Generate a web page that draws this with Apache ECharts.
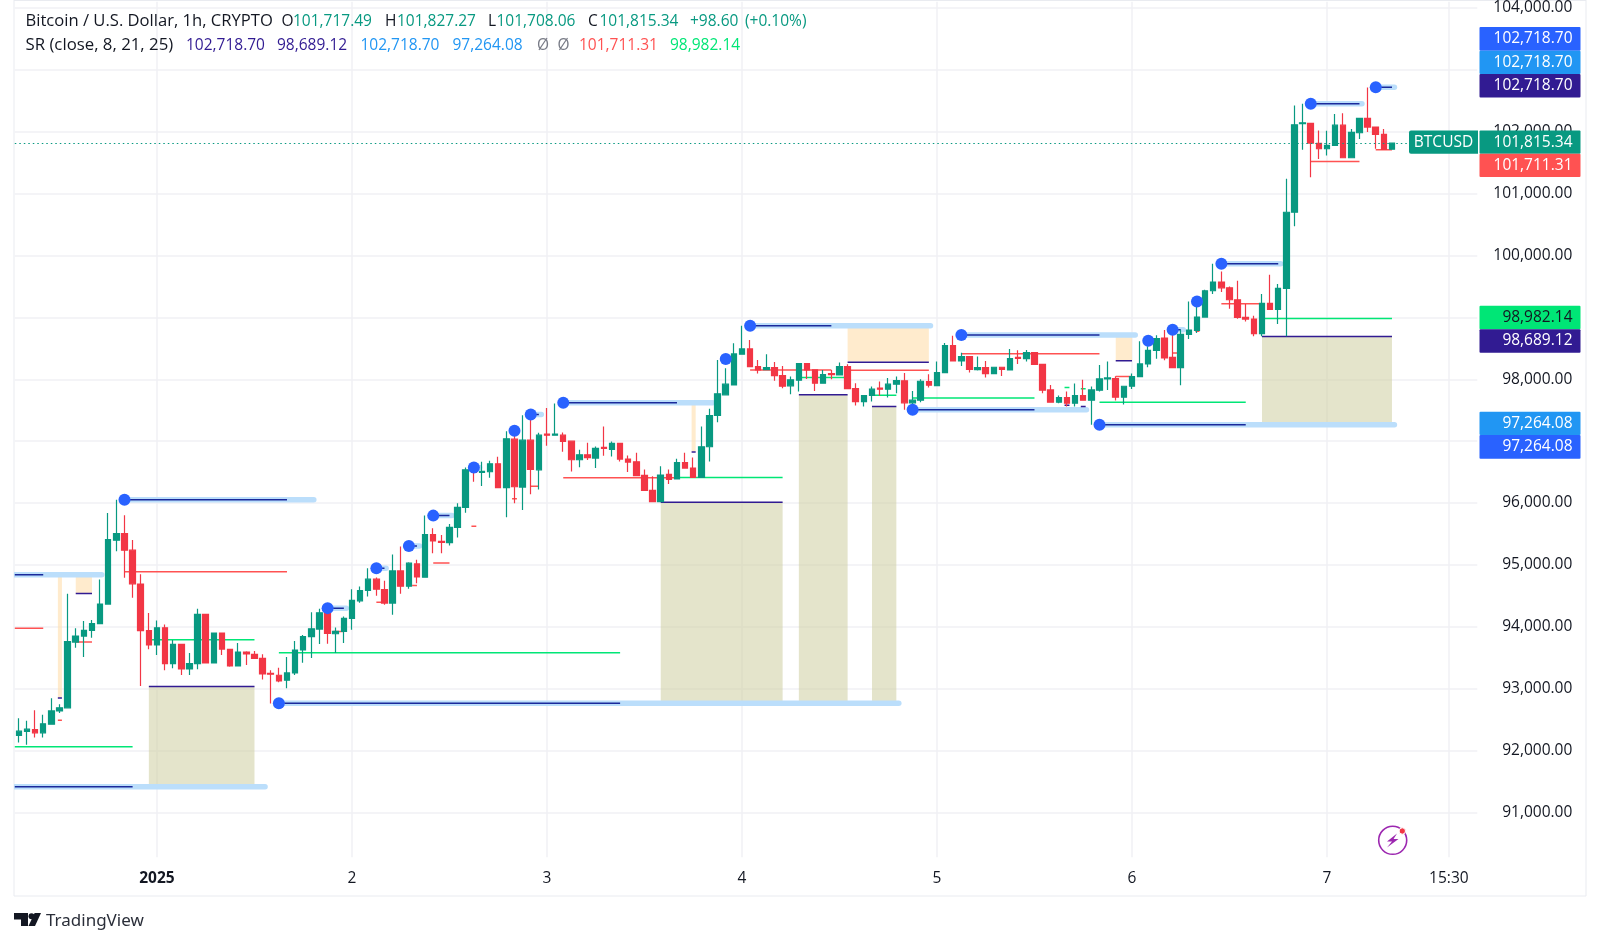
<!DOCTYPE html>
<html>
<head>
<meta charset="utf-8">
<title>BTCUSD 1h</title>
<script src="https://cdn.jsdelivr.net/npm/echarts@6/dist/echarts.min.js"></script>
<style>
  html, body { margin: 0; padding: 0; background: #fff; }
  #main { width: 1600px; height: 945px; }
</style>
</head>
<body>
<div id="main"></div>
<script>
// hourly candles
const opens = [92243,92307,92339,92286,92425,92640,92689,93753,93850,93941,
  94049,94366,95398,95506,95237,94689,93936,93705,93984,93404,
  93716,93318,93404,94199,93415,93898,93635,93366,93592,93554,
  93490,93248,93216,93135,93253,93624,93839,93962,94237,93887,
  93925,94134,94419,94586,94769,94602,94382,94903,94656,95016,
  94801,95489,95382,95360,95607,95930,96554,96494,96505,96634,
  96247,97032,96258,97016,96537,97113,97097,97097,97000,96699,
  96780,96726,96898,96866,96963,96710,96667,96447,96205,96022,
  96463,96388,96651,96565,96414,96909,97414,97748,97909,98404,
  98490,98205,98156,98189,98060,97893,97984,98253,98151,97936,
  98092,98070,98205,97850,97640,97737,97855,97839,97920,97974,
  97619,97662,97963,97898,98108,98543,98296,98366,98156,98189,
  98092,98194,98151,98355,98334,98430,98242,97828,97629,97705,
  97613,97737,97662,97823,98006,98011,97710,97887,98043,98247,
  98468,98667,98355,98188,98726,98790,99005,99430,99570,99478,
  99285,99000,98973,98737,99226,99129,99468,100699,102129,102134,
  101811,101725,101779,102107,101580,101984,102215,102075,101957,101717];
const closes = [92313,92345,92286,92431,92640,92689,93759,93850,93941,94049,
  94366,95409,95506,95237,94694,93936,93705,93984,93404,93716,
  93318,93404,94199,93415,93898,93640,93366,93592,93560,93490,
  93237,93232,93124,93253,93624,93839,93968,94226,93892,93925,
  94134,94425,94586,94769,94607,94382,94903,94656,95027,94806,
  95489,95387,95365,95607,95930,96537,96494,96510,96634,96247,
  97037,96263,97016,96543,97097,97097,97113,96994,96699,96780,
  96732,96882,96882,96963,96710,96662,96441,96205,96022,96452,
  96382,96651,96565,96414,96909,97414,97764,97920,98409,98490,
  98205,98151,98189,98060,97887,97990,98253,98151,97936,98076,
  98076,98205,97850,97640,97737,97839,97839,97920,97979,97619,
  97662,97968,97904,98108,98543,98296,98366,98161,98189,98092,
  98194,98161,98334,98339,98430,98242,97823,97629,97705,97613,
  97737,97662,97828,98006,98022,97710,97887,98043,98247,98468,
  98656,98344,98188,98726,98796,99005,99430,99570,99478,99285,
  99000,98973,98737,99226,99129,99468,100699,102113,102145,101817,
  101725,101779,102107,101580,101989,102215,102075,101957,101715,101815];
const highs = [92522,92479,92651,92576,92845,92748,94533,93974,94092,94108,
  94764,95839,96054,95802,95404,94850,94221,94103,94038,93786,
  93716,93576,94291,94210,93909,93909,93635,93737,93603,93608,
  93554,93296,93339,93511,93769,93866,94236,94290,94301,93989,
  94167,94607,94650,94946,94796,94742,95167,95296,95043,95081,
  95796,95591,95484,95661,95994,96575,96586,96666,96683,96747,
  97161,97097,97419,97365,97134,97537,97607,97140,97000,96861,
  96974,96914,97237,96995,96963,96769,96812,96543,96431,96592,
  96543,96716,96812,96737,97237,97522,98312,98178,98581,98866,
  98635,98312,98404,98280,98215,98043,98264,98253,98151,98151,
  98151,98269,98242,97936,97737,97882,97963,98022,98043,98103,
  97812,98000,98081,98285,98586,98705,98430,98366,98366,98296,
  98194,98194,98489,98468,98473,98430,98242,97909,97737,97801,
  97931,97990,97882,98232,98285,98048,97887,98091,98613,98532,
  98710,98796,98801,98801,99258,99194,99446,99865,99742,99500,
  99591,99215,99027,99376,99688,99538,101242,102424,102451,102134,
  102021,102016,102285,102301,102043,102215,102715,102075,102043,101827];
const lows = [92130,92092,92210,92210,92415,92608,92689,93662,93511,93823,
  94049,94366,95221,94791,94468,93044,93635,93544,93296,93329,
  93221,93221,93312,93415,93415,93544,93355,93366,93382,93479,
  93146,92759,93103,93006,93221,93420,93495,93720,93726,93575,
  93736,93952,94387,94489,94500,94355,94194,94532,94613,94704,
  94801,95188,95188,95312,95441,95844,96344,96274,96408,96247,
  95769,95994,95887,96140,96220,96925,97097,96828,96511,96576,
  96694,96565,96764,96753,96672,96500,96441,96205,96011,96011,
  96307,96388,96565,96414,96414,96672,97307,97737,97909,98404,
  98205,98092,98151,97974,97855,97758,97801,98006,97812,97936,
  98000,98060,97850,97576,97560,97640,97732,97705,97775,97506,
  97522,97629,97866,97887,98108,98296,98215,98108,98140,98027,
  98092,98054,98151,98248,98285,98242,97775,97629,97613,97560,
  97560,97662,97264,97801,97828,97656,97591,97844,98043,98194,
  98333,98306,98188,97903,98651,98747,99005,99376,99409,99140,
  98978,98935,98694,98694,99129,98892,98694,100473,101709,101263,
  101559,101618,101779,101580,101580,101881,101994,101725,101704,101708];

// axis ticks
const priceTicks = [91000,92000,93000,94000,95000,96000,97000,98000,99000,100000,101000,102000,103000,104000];
const timeIndex = [17,41,65,89,113,137,161,176];
const timeLabels = ['2025','2','3','4','5','6','7','15:30'];

// SR indicator: pivots and [from bar, to bar, price]
const pivotBars = [13,32,38,44,48,51,56,61,63,67,87,90,110,116,133,139,142,145,148,159,167];
const pivotPrices = [96054,92764,94301,94946,95306,95796,96575,97166,97430,97620,98328,98866,97506,98715,97264,98624,98801,99258,99865,102451,102719];
const lightLevels = [[-0.5,10.2,94839],[13,36.3,96054],[-0.5,30.3,91413],[32,108.3,92764],[38,40.3,94301],[44,45.2,94946],
  [48,49.3,95306],[51,53.3,95796],[56,56.7,96575],[63,64.3,97430],[67,85.4,97620],[90,112.2,98866],[110,131.4,97506],[116,137.4,98715],
  [133,169.3,97264],[142,143.3,98801],[148,155.3,99865],[159,165.3,102451],[167,169.3,102719]];
const darkLevels = [[-0.5,3,94839],[13,33,96054],[-0.5,14,91413],[32,74,92764],[38,40,94301],[44,45,94946],[48,49,95306],
  [51,53,95796],[63,64,97430],[67,81,97620],[90,100,98866],[110,125,97506],[116,133,98715],[133,151,97264],
  [142,143,98801],[148,155,99865],[159,165,102451],[167,169,102719]];
const redLevels = [[-0.5,3,93974],[7,9,93753],[4.8,5.3,92490],[13,33,94888],[38.7,40,93925],[44,45,94398],[48.4,49,94667],
  [51,53,95032],[55.7,56.3,95623],[60.7,61.3,96070],[63,64,96269],[67,81,96409],[90,100,98151],[102,112,98146],
  [116,133,98414],[135,137,98043],[142,143,98425],[144.8,145.3,98774],[148,153,99220],[159,165,101521],[167,169,101711]];
const greenLevels = [[-0.5,14,92060],[16,29,93791],[32,74,93581],[81,94,96414],[96,102,98027],[105,108,97742],[110,125,97699],
  [128.7,129.3,97866],[130.7,131.3,97845],[133,151,97629],[153,169,98982]];
const purpleLevels = [[4.8,5.3,92850],[7,9,94538],[16,29,93033],[79,94,96011],[82.8,83.3,96823],[96,102,97748],[102,112,98275],
  [105,108,97560],[128.7,129.3,97580],[130.7,131.3,97559],[135,137,98301],[153,169,98689]];
// [from bar, to bar, top price, bottom price]
const orangeZones = [[4.8,5.3,94830,92855],[7,9,94829,94538],[82.8,83.3,97613,96834],[102,112,98866,98285],[135,137,98694,98301]];
const oliveZones = [[16,29,93033,91413],[79,94,96011,92764],[96,102,97748,92764],[105,108,97560,92764],[153,169,98689,97264]];

const lastPrice = 101815.34;

const FONT = '"Open Sans", sans-serif';
const FONT_SIZE = 15.5;
const UP = '#089981', DOWN = '#f23645', INK = '#131722';

const candles = opens.map((o, i) => [i, o, closes[i], lows[i], highs[i]]);

function levelSeries(name, rows, color, width, z, cap) {
  return {
    name: name, type: 'custom', z: z, silent: true, clip: true,
    encode: { x: [0, 1], y: 2 },
    data: rows,
    renderItem: function (params, api) {
      const a = api.coord([api.value(0), api.value(2)]);
      const b = api.coord([api.value(1), api.value(2)]);
      return {
        type: 'line',
        shape: { x1: a[0], y1: a[1], x2: b[0], y2: b[1] },
        style: { stroke: color, lineWidth: width, lineCap: cap || 'butt' }
      };
    }
  };
}

function zoneSeries(name, rows, color) {
  return {
    name: name, type: 'custom', z: 1, silent: true, clip: true,
    encode: { x: [0, 1], y: [2, 3] },
    data: rows,
    renderItem: function (params, api) {
      const a = api.coord([api.value(0), api.value(2)]);
      const b = api.coord([api.value(1), api.value(3)]);
      return {
        type: 'rect',
        shape: { x: a[0], y: a[1], width: b[0] - a[0], height: b[1] - a[1] },
        style: { fill: color }
      };
    }
  };
}

// legend text: [text, x, y, colour, font size]
const legendRows = [
  ['Bitcoin / U.S. Dollar, 1h, CRYPTO', 25.5, 21.5, INK, 16.6],
  ['O', 281.5, 21.5, INK, FONT_SIZE], ['101,717.49', 293, 21.5, UP, FONT_SIZE],
  ['H', 385, 21.5, INK, FONT_SIZE], ['101,827.27', 397, 21.5, UP, FONT_SIZE],
  ['L', 488, 21.5, INK, FONT_SIZE], ['101,708.06', 496.5, 21.5, UP, FONT_SIZE],
  ['C', 588, 21.5, INK, FONT_SIZE], ['101,815.34', 599.5, 21.5, UP, FONT_SIZE],
  ['+98.60', 690, 21.5, UP, FONT_SIZE], ['(+0.10%)', 745, 21.5, UP, FONT_SIZE],
  ['SR (close, 8, 21, 25)', 25.5, 45.5, INK, 16.8],
  ['102,718.70', 186, 45.5, '#311b92', FONT_SIZE], ['98,689.12', 277, 45.5, '#311b92', FONT_SIZE],
  ['102,718.70', 360.5, 45.5, '#2196f3', FONT_SIZE], ['97,264.08', 452.5, 45.5, '#2196f3', FONT_SIZE],
  ['Ø', 537, 45.5, '#787b86', FONT_SIZE], ['Ø', 557.5, 45.5, '#787b86', FONT_SIZE],
  ['101,711.31', 579, 45.5, '#ff5252', FONT_SIZE], ['98,982.14', 670, 45.5, '#00e676', FONT_SIZE]
];
// price tags on the axis: [text, top, bottom, fill, text colour]
const tagRows = [
  ['102,718.70', 27, 50.7, '#2962ff', '#fff'],
  ['102,718.70', 50.7, 74, '#2196f3', '#fff'],
  ['102,718.70', 74, 97.5, '#311b92', '#fff'],
  ['101,815.34', 130.5, 153.7, UP, '#fff'],
  ['101,711.31', 153.7, 177, '#ff5252', '#fff'],
  ['98,982.14', 305.7, 329.3, '#00e676', INK],
  ['98,689.12', 329.3, 352.7, '#311b92', '#fff'],
  ['97,264.08', 411.7, 435, '#2196f3', '#fff'],
  ['97,264.08', 435, 458.7, '#2962ff', '#fff']
];

const graphics = [];
legendRows.forEach(function (r) {
  graphics.push({ type: 'text', x: r[1], y: r[2], z: 20,
    style: { text: r[0], font: r[4] + 'px ' + FONT, fill: r[3], textVerticalAlign: 'middle' } });
});
tagRows.forEach(function (r) {
  graphics.push({ type: 'rect', z: 20, shape: { x: 1479.5, y: r[1], width: 101, height: r[2] - r[1], r: 1 }, style: { fill: r[3] } });
  graphics.push({ type: 'text', x: 1572.5, y: (r[1] + r[2]) / 2, z: 21,
    style: { text: r[0], font: FONT_SIZE + 'px ' + FONT, fill: r[4], textAlign: 'right', textVerticalAlign: 'middle' } });
});
// symbol tag
graphics.push({ type: 'rect', z: 20, shape: { x: 1409, y: 130.5, width: 69, height: 23.2, r: [2, 0, 0, 2] }, style: { fill: UP } });
graphics.push({ type: 'text', x: 1443.5, y: 142.3, z: 21,
  style: { text: 'BTCUSD', font: FONT_SIZE + 'px ' + FONT, fill: '#fff', textAlign: 'center', textVerticalAlign: 'middle' } });
// pane frame
[[14, 0, 14, 896], [14, 896, 1586, 896], [1586, 0, 1586, 896], [14, 0.5, 1586, 0.5]].forEach(function (l) {
  graphics.push({ type: 'line', z: 0, shape: { x1: l[0], y1: l[1], x2: l[2], y2: l[3] }, style: { stroke: '#e9ebf0', lineWidth: 1 } });
});
// flash icon
graphics.push({ type: 'circle', z: 20, shape: { cx: 1392.7, cy: 840.3, r: 14 }, style: { fill: 'none', stroke: '#9c27b0', lineWidth: 1.6 } });
graphics.push({ type: 'polygon', z: 21, shape: { points: [[1397, 833.5], [1387, 841.5], [1392, 841.5], [1387, 847.5], [1398.5, 839], [1393.5, 839]] }, style: { fill: '#9c27b0' } });
graphics.push({ type: 'circle', z: 22, shape: { cx: 1402.3, cy: 831, r: 3.2 }, style: { fill: '#f23645', stroke: '#fff', lineWidth: 1 } });
// logo
graphics.push({ type: 'polygon', z: 20, shape: { points: [[14, 913], [28, 913], [28, 926], [21, 926], [21, 919.5], [14, 919.5]] }, style: { fill: INK } });
graphics.push({ type: 'circle', z: 20, shape: { cx: 31.5, cy: 916.2, r: 3 }, style: { fill: INK } });
graphics.push({ type: 'polygon', z: 20, shape: { points: [[41, 913], [35, 926], [28.5, 926], [34.6, 913]] }, style: { fill: INK } });
graphics.push({ type: 'text', x: 46, y: 921, z: 20,
  style: { text: 'TradingView', font: '17px "Noto Sans", sans-serif', fill: '#2a2e39', textVerticalAlign: 'middle' } });

const myChart = echarts.init(document.getElementById('main'), null, { renderer: 'canvas' });
myChart.setOption({
  animation: false,
  backgroundColor: '#fff',
  tooltip: { show: false },
  grid: { left: 14.8, top: 0, width: 1462.5, height: 857.3, containLabel: false },
  xAxis: {
    type: 'value', min: -0.5, max: 179.5,
    axisLine: { show: false },
    axisTick: { show: false, customValues: timeIndex },
    splitLine: { show: true, lineStyle: { color: '#f0f1f4', width: 1.5 } },
    axisLabel: {
      customValues: timeIndex, margin: 13, fontFamily: FONT, fontSize: FONT_SIZE, color: INK,
      showMinLabel: true, showMaxLabel: true,
      rich: { bold: { fontFamily: FONT, fontSize: FONT_SIZE, fontWeight: 'bold', color: INK } },
      formatter: function (v) {
        const t = timeLabels[timeIndex.indexOf(v)];
        return t === '2025' ? '{bold|' + t + '}' : t;
      }
    }
  },
  yAxis: {
    type: 'value', position: 'right', min: 90274, max: 104102, scale: true,
    axisLine: { show: false },
    axisTick: { show: false, customValues: priceTicks },
    splitLine: { show: true, lineStyle: { color: '#f0f1f4', width: 1.5 } },
    axisLabel: {
      customValues: priceTicks, margin: 95, align: 'right', fontFamily: FONT, fontSize: FONT_SIZE, color: INK,
      formatter: function (v) {
        return v.toLocaleString('en-US', { minimumFractionDigits: 2, maximumFractionDigits: 2 });
      }
    }
  },
  series: [
    zoneSeries('olive', oliveZones, 'rgba(205,205,160,0.55)'),
    zoneSeries('orange', orangeZones, 'rgba(255,224,178,0.65)'),
    levelSeries('light', lightLevels, '#bbdefb', 5.5, 2, 'round'),
    levelSeries('green', greenLevels, '#00e676', 1.5, 2),
    levelSeries('red', redLevels, '#ff5252', 1.5, 2),
    levelSeries('purple', purpleLevels, '#311b92', 1.5, 2),
    levelSeries('dark', darkLevels, '#1a2a9c', 1.5, 3),
    {
      name: 'BTCUSD', type: 'candlestick', z: 4, barWidth: 6,
      encode: { x: 0, y: [1, 2, 3, 4] },
      data: candles,
      itemStyle: { color: UP, color0: DOWN, borderColor: UP, borderColor0: DOWN, borderWidth: 1.2 },
      markLine: {
        silent: true, symbol: 'none', animation: false, label: { show: false },
        lineStyle: { color: UP, type: [1.5, 3], width: 1.2 },
        data: [{ yAxis: lastPrice }]
      }
    },
    {
      name: 'pivots', type: 'scatter', z: 5, symbolSize: 12, silent: true,
      itemStyle: { color: '#2962ff', opacity: 1 },
      data: pivotBars.map((b, i) => [b, pivotPrices[i]])
    }
  ],
  graphic: { elements: graphics }
});
</script>
</body>
</html>
